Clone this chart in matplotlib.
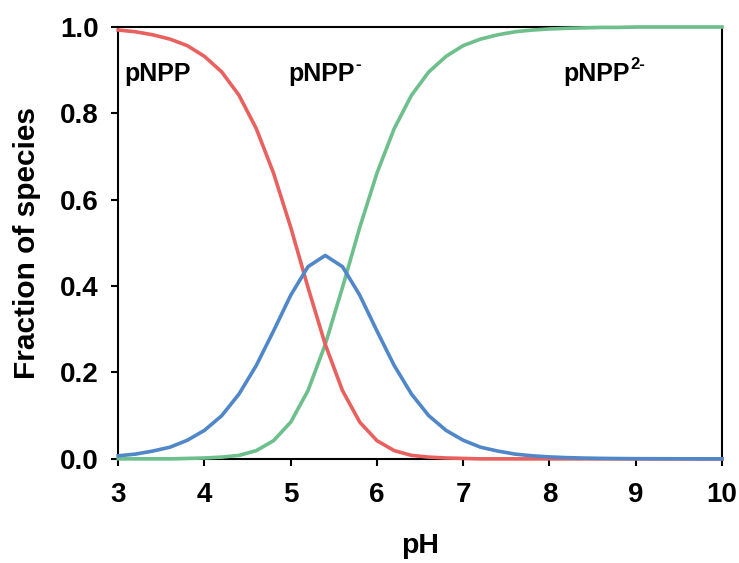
import matplotlib
matplotlib.use('Agg')
import matplotlib.pyplot as plt
from matplotlib.transforms import offset_copy

plt.rcParams['font.family'] = ['Liberation Sans', 'DejaVu Sans']
plt.rcParams['font.weight'] = 'bold'

# pH values (step 0.2) and fraction of each species
ph = [3.0, 3.2, 3.4, 3.6, 3.8, 4.0, 4.2, 4.4, 4.6, 4.8,
      5.0, 5.2, 5.4, 5.6, 5.8, 6.0, 6.2, 6.4, 6.6, 6.8,
      7.0, 7.2, 7.4, 7.6, 7.8, 8.0, 8.2, 8.4, 8.6, 8.8,
      9.0, 9.2, 9.4, 9.6, 9.8, 10.0]
f_pnpp = [0.993, 0.989, 0.982, 0.972, 0.957, 0.932, 0.896, 0.842, 0.765, 0.662,
          0.536, 0.397, 0.265, 0.158, 0.085, 0.042, 0.019, 0.008, 0.004, 0.002,
          0.001, 0.0, 0.0, 0.0, 0.0, 0.0, 0.0, 0.0, 0.0, 0.0,
          0.0, 0.0, 0.0, 0.0, 0.0, 0.0]
f_pnpp1 = [0.007, 0.011, 0.018, 0.027, 0.043, 0.066, 0.100, 0.150, 0.216, 0.296,
           0.379, 0.445, 0.471, 0.445, 0.379, 0.296, 0.216, 0.150, 0.100, 0.066,
           0.043, 0.027, 0.018, 0.011, 0.007, 0.0045, 0.0028, 0.0018, 0.0011, 0.0007,
           0.0004, 0.0003, 0.0002, 0.0001, 0.0, 0.0]
f_pnpp2 = [0.0, 0.0, 0.0, 0.0, 0.001, 0.002, 0.004, 0.008, 0.019, 0.042,
           0.085, 0.158, 0.265, 0.397, 0.536, 0.662, 0.765, 0.842, 0.896, 0.932,
           0.957, 0.972, 0.982, 0.989, 0.993, 0.9955, 0.997, 0.998, 0.999, 0.999,
           1.0, 1.0, 1.0, 1.0, 1.0, 1.0]

labels = ['pNPP', 'pNPP', 'pNPP']
label_sup = ['', '-', '2-']
label_x = [3.07, 4.97, 8.16]
label_y = [0.876, 0.876, 0.876]

fig = plt.figure(figsize=(7.39, 5.63), dpi=100)
ax = fig.add_axes([0.160, 0.185, 0.817, 0.767])

ax.plot(ph, f_pnpp2, color='#6dbf8b', lw=2.6, zorder=3, clip_on=False)
ax.plot(ph, f_pnpp, color='#e8615e', lw=2.6, zorder=4, clip_on=False)
ax.plot(ph, f_pnpp1, color='#4f87c8', lw=2.6, zorder=5, clip_on=False)

ax.set_xlim(3, 10)
ax.set_ylim(0, 1)
ax.set_xticks(range(3, 11))
ax.set_yticks([0.0, 0.2, 0.4, 0.6, 0.8, 1.0])
ax.set_yticklabels(['0.0', '0.2', '0.4', '0.6', '0.8', '1.0'])
ax.tick_params(direction='out', length=5, width=1.5, labelsize=20)
ax.tick_params(axis='x', pad=12)
ax.tick_params(axis='y', pad=9)
for s in ax.spines.values():
    s.set_linewidth(1.5)

ax.set_xlabel('pH', fontsize=20.5, fontweight='bold', labelpad=18)
ax.set_ylabel('Fraction of species', fontsize=21.5, fontweight='bold', labelpad=14)

# main labels, then superscripts placed just after each one
texts = []
for t, x, y in zip(labels, label_x, label_y):
    texts.append(ax.text(x, y, t, fontsize=18, fontweight='bold', va='baseline', ha='left'))
fig.canvas.draw()
r = fig.canvas.get_renderer()
for txt, sup, x, y in zip(texts, label_sup, label_x, label_y):
    if not sup:
        continue
    w = txt.get_window_extent(renderer=r).width * 72 / fig.dpi
    tr = offset_copy(ax.transData, fig=fig, x=w + 0.5, y=8, units='points')
    ax.text(x, y, sup, fontsize=12, fontweight='bold', va='baseline', ha='left', transform=tr)

fig.savefig('out.png', dpi=100)
